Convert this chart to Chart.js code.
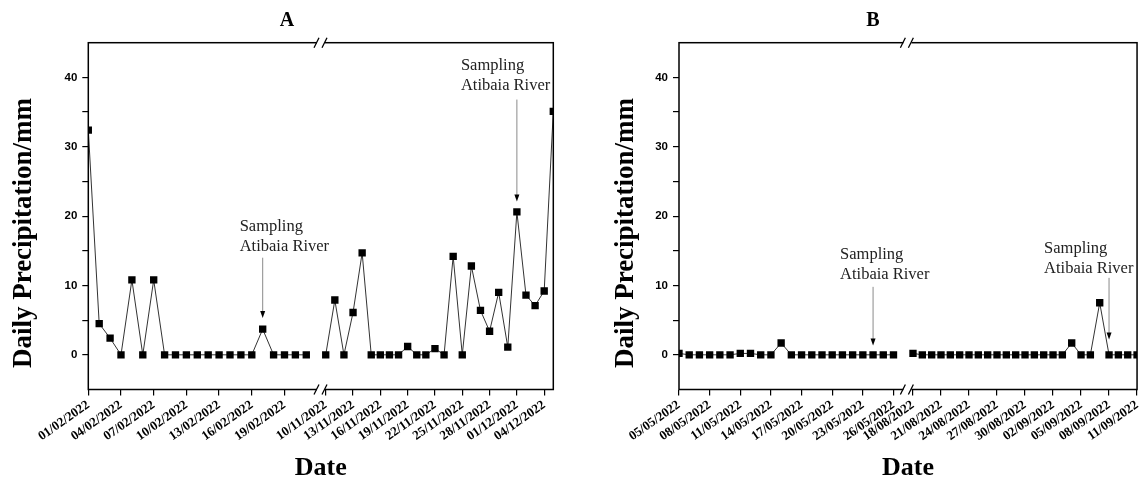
<!DOCTYPE html>
<html>
<head>
<meta charset="utf-8">
<script src="https://cdn.jsdelivr.net/npm/chart.js@4/dist/chart.umd.min.js"></script>
<style>
  html, body { margin: 0; padding: 0; background: #fff; }
  body { width: 1148px; height: 487px; position: relative; overflow: hidden; }
  canvas { position: absolute; top: 0; }
  #chartA { left: 0; }
  #chartB { left: 574px; }
</style>
</head>
<body>
<canvas id="chartA" width="574" height="487"></canvas>
<canvas id="chartB" width="574" height="487"></canvas>
<script>
// --- Data ---
const datesA1 = ['01/02/2022', '02/02/2022', '03/02/2022', '04/02/2022', '05/02/2022', '06/02/2022', '07/02/2022',
  '08/02/2022', '09/02/2022', '10/02/2022', '11/02/2022', '12/02/2022', '13/02/2022', '14/02/2022',
  '15/02/2022', '16/02/2022', '17/02/2022', '18/02/2022', '19/02/2022', '20/02/2022', '21/02/2022'];
const rainA1 = [32.4, 4.5, 2.4, 0, 10.8, 0, 10.8, 0, 0, 0, 0, 0, 0, 0, 0, 0, 3.7, 0, 0, 0, 0];

const datesA2 = ['10/11/2022', '11/11/2022', '12/11/2022', '13/11/2022', '14/11/2022', '15/11/2022', '16/11/2022',
  '17/11/2022', '18/11/2022', '19/11/2022', '20/11/2022', '21/11/2022', '22/11/2022', '23/11/2022',
  '24/11/2022', '25/11/2022', '26/11/2022', '27/11/2022', '28/11/2022', '29/11/2022', '30/11/2022',
  '01/12/2022', '02/12/2022', '03/12/2022', '04/12/2022', '05/12/2022'];
const rainA2 = [0, 7.9, 0, 6.1, 14.7, 0, 0, 0, 0, 1.2, 0, 0, 0.9, 0, 14.2, 0, 12.8, 6.4, 3.4, 9.0, 1.1,
  20.6, 8.6, 7.1, 9.2, 35.1];

const ticksA1 = ['01/02/2022', '04/02/2022', '07/02/2022', '10/02/2022', '13/02/2022', '16/02/2022', '19/02/2022'];
const ticksA2 = ['10/11/2022', '13/11/2022', '16/11/2022', '19/11/2022', '22/11/2022', '25/11/2022',
  '28/11/2022', '01/12/2022', '04/12/2022'];

const datesB1 = ['05/05/2022', '06/05/2022', '07/05/2022', '08/05/2022', '09/05/2022', '10/05/2022', '11/05/2022',
  '12/05/2022', '13/05/2022', '14/05/2022', '15/05/2022', '16/05/2022', '17/05/2022', '18/05/2022',
  '19/05/2022', '20/05/2022', '21/05/2022', '22/05/2022', '23/05/2022', '24/05/2022', '25/05/2022', '26/05/2022'];
const rainB1 = [0.2, 0, 0, 0, 0, 0, 0.2, 0.2, 0, 0, 1.7, 0, 0, 0, 0, 0, 0, 0, 0, 0, 0, 0];

const datesB2 = ['18/08/2022', '19/08/2022', '20/08/2022', '21/08/2022', '22/08/2022', '23/08/2022', '24/08/2022',
  '25/08/2022', '26/08/2022', '27/08/2022', '28/08/2022', '29/08/2022', '30/08/2022', '31/08/2022',
  '01/09/2022', '02/09/2022', '03/09/2022', '04/09/2022', '05/09/2022', '06/09/2022', '07/09/2022',
  '08/09/2022', '09/09/2022', '10/09/2022', '11/09/2022'];
const rainB2 = [0.2, 0, 0, 0, 0, 0, 0, 0, 0, 0, 0, 0, 0, 0, 0, 0, 0, 1.7, 0, 0, 7.5, 0, 0, 0, 0];

const ticksB1 = ['05/05/2022', '08/05/2022', '11/05/2022', '14/05/2022', '17/05/2022', '20/05/2022',
  '23/05/2022', '26/05/2022'];
const ticksB2 = ['18/08/2022', '21/08/2022', '24/08/2022', '27/08/2022', '30/08/2022', '02/09/2022',
  '05/09/2022', '08/09/2022', '11/09/2022'];

const yTicks = [0, 5, 10, 15, 20, 25, 30, 35, 40];
const yLabels = [0, 10, 20, 30, 40];

// --- Fonts ---
const serif = '"Liberation Serif", "Times New Roman", serif';
const sans = '"Liberation Sans", Arial, sans-serif';

// --- Decorations: frame, axis break, titles, sampling arrows ---
const decor = {
    id: 'decor',
    afterDraw(chart, args, o) {
        const { ctx, chartArea: a, scales } = chart;
        const y = scales.y;
        ctx.save();

        // frame
        ctx.strokeStyle = '#000';
        ctx.lineWidth = 1.5;
        ctx.strokeRect(a.left, a.top, a.right - a.left, a.bottom - a.top);

        // axis break "//" on top and bottom
        const bx = scales.x1.right;
        [a.top, a.bottom].forEach(by => {
            ctx.fillStyle = '#fff';
            ctx.fillRect(bx - 4, by - 2, 8, 4);
            ctx.beginPath();
            ctx.moveTo(bx - 7, by + 5); ctx.lineTo(bx - 2, by - 5);
            ctx.moveTo(bx + 1, by + 5); ctx.lineTo(bx + 6, by - 5);
            ctx.lineWidth = 1.3;
            ctx.stroke();
        });

        // panel letter
        ctx.fillStyle = '#000';
        ctx.textAlign = 'center';
        ctx.textBaseline = 'middle';
        ctx.font = 'bold 20px ' + serif;
        ctx.fillText(o.letter, o.letterX, 21);

        // x title
        ctx.font = 'bold 26px ' + serif;
        ctx.fillText('Date', (a.left + a.right) / 2, 468);

        // y title
        ctx.save();
        ctx.translate(o.yTitleX, 233);
        ctx.rotate(-Math.PI / 2);
        ctx.font = 'bold 27px ' + serif;
        ctx.fillText('Daily Precipitation/mm', 0, 0);
        ctx.restore();

        // sampling notes
        o.notes.forEach(n => {
            const sc = scales[n.axis];
            const x = sc.getPixelForValue(n.dates.indexOf(n.date));
            ctx.font = '16.5px ' + serif;
            ctx.fillStyle = '#222';
            ctx.textAlign = 'left';
            ctx.fillText('Sampling', x + n.dx, y.getPixelForValue(n.textY[0]));
            ctx.fillText('Atibaia River', x + n.dx, y.getPixelForValue(n.textY[1]));

            const top = y.getPixelForValue(n.arrow[0]);
            const tip = y.getPixelForValue(n.arrow[1]);
            ctx.strokeStyle = '#8a8a8a';
            ctx.lineWidth = 1;
            ctx.beginPath();
            ctx.moveTo(x, top);
            ctx.lineTo(x, tip - 6);
            ctx.stroke();
            ctx.fillStyle = '#000';
            ctx.beginPath();
            ctx.moveTo(x - 2.5, tip - 7);
            ctx.lineTo(x + 2.5, tip - 7);
            ctx.lineTo(x, tip);
            ctx.closePath();
            ctx.fill();
        });

        ctx.restore();
    }
};

// --- Axis builders ---
function xAxis(dates, tickLabels, min, max, weight) {
    return {
        type: 'linear',
        position: 'bottom',
        stack: 'date',
        stackWeight: weight,
        min: min,
        max: max,
        afterBuildTicks: axis => {
            axis.ticks = tickLabels.map(l => ({ value: dates.indexOf(l) }));
        },
        afterFit: axis => { axis.height = 97.5; },
        border: { display: false },
        grid: { drawOnChartArea: false, drawTicks: true, tickLength: 6, color: '#000', lineWidth: 1.2 },
        ticks: {
            autoSkip: false,
            minRotation: 35,
            maxRotation: 35,
            padding: 2,
            color: '#000',
            font: { family: serif, weight: 'bold', size: 13 },
            callback: v => dates[v]
        }
    };
}

function yAxis(width) {
    return {
        type: 'linear',
        position: 'left',
        min: -5,
        max: 45,
        afterBuildTicks: axis => {
            axis.ticks = yTicks.map(v => ({ value: v }));
        },
        afterFit: axis => { axis.width = width; },
        border: { display: false },
        grid: { drawOnChartArea: false, tickLength: 6, color: '#000', lineWidth: 1.2 },
        ticks: {
            padding: 5,
            color: '#000',
            font: { family: sans, weight: 'bold', size: 11.5 },
            callback: v => (yLabels.includes(v) ? v : '')
        }
    };
}

const lineStyle = {
    borderColor: '#333',
    borderWidth: 1,
    tension: 0,
    pointStyle: 'rect',
    pointRadius: 5.2,
    pointBackgroundColor: '#000',
    pointBorderColor: '#000',
    pointBorderWidth: 0
};

function buildPanel(canvasId, p) {
    return new Chart(document.getElementById(canvasId), {
        type: 'line',
        data: {
            datasets: [
                { ...lineStyle, xAxisID: 'x1', data: p.rain1.map((v, i) => ({ x: i, y: v })) },
                { ...lineStyle, xAxisID: 'x2', data: p.rain2.map((v, i) => ({ x: i, y: v })) }
            ]
        },
        options: {
            responsive: false,
            animation: false,
            devicePixelRatio: 1,
            layout: { padding: { left: 0, right: p.padRight, top: 42.7, bottom: 0 } },
            plugins: {
                legend: { display: false },
                tooltip: { enabled: false },
                decor: { letter: p.letter, letterX: p.letterX, yTitleX: p.yTitleX, notes: p.notes }
            },
            scales: {
                x1: xAxis(p.dates1, p.ticks1, 0, p.max1, p.w1),
                x2: xAxis(p.dates2, p.ticks2, p.min2, p.dates2.length - 1, p.w2),
                y: yAxis(p.yWidth)
            }
        },
        plugins: [decor]
    });
}

// --- Panels ---
buildPanel('chartA', {
    letter: 'A', letterX: 287, yTitleX: 24,
    dates1: datesA1, rain1: rainA1, ticks1: ticksA1,
    dates2: datesA2, rain2: rainA2, ticks2: ticksA2,
    max1: 21.35, min2: -0.52, w1: 232.7, w2: 232.3,
    yWidth: 88.3, padRight: 20.7,
    notes: [
        { axis: 'x1', dates: datesA1, date: '17/02/2022', dx: -23, textY: [18.5, 15.6], arrow: [14.0, 5.3] },
        { axis: 'x2', dates: datesA2, date: '01/12/2022', dx: -56, textY: [41.7, 38.8], arrow: [36.8, 22.1] }
    ]
});

buildPanel('chartB', {
    letter: 'B', letterX: 299, yTitleX: 52,
    dates1: datesB1, rain1: rainB1, ticks1: ticksB1,
    dates2: datesB2, rain2: rainB2, ticks2: ticksB2,
    max1: 22.36, min2: -0.6, w1: 231, w2: 232.3,
    yWidth: 105, padRight: 5.7,
    notes: [
        { axis: 'x1', dates: datesB1, date: '24/05/2022', dx: -33, textY: [14.4, 11.5], arrow: [9.8, 1.35] },
        { axis: 'x2', dates: datesB2, date: '08/09/2022', dx: -65, textY: [15.25, 12.4], arrow: [11.1, 2.2] }
    ]
});
</script>
</body>
</html>
